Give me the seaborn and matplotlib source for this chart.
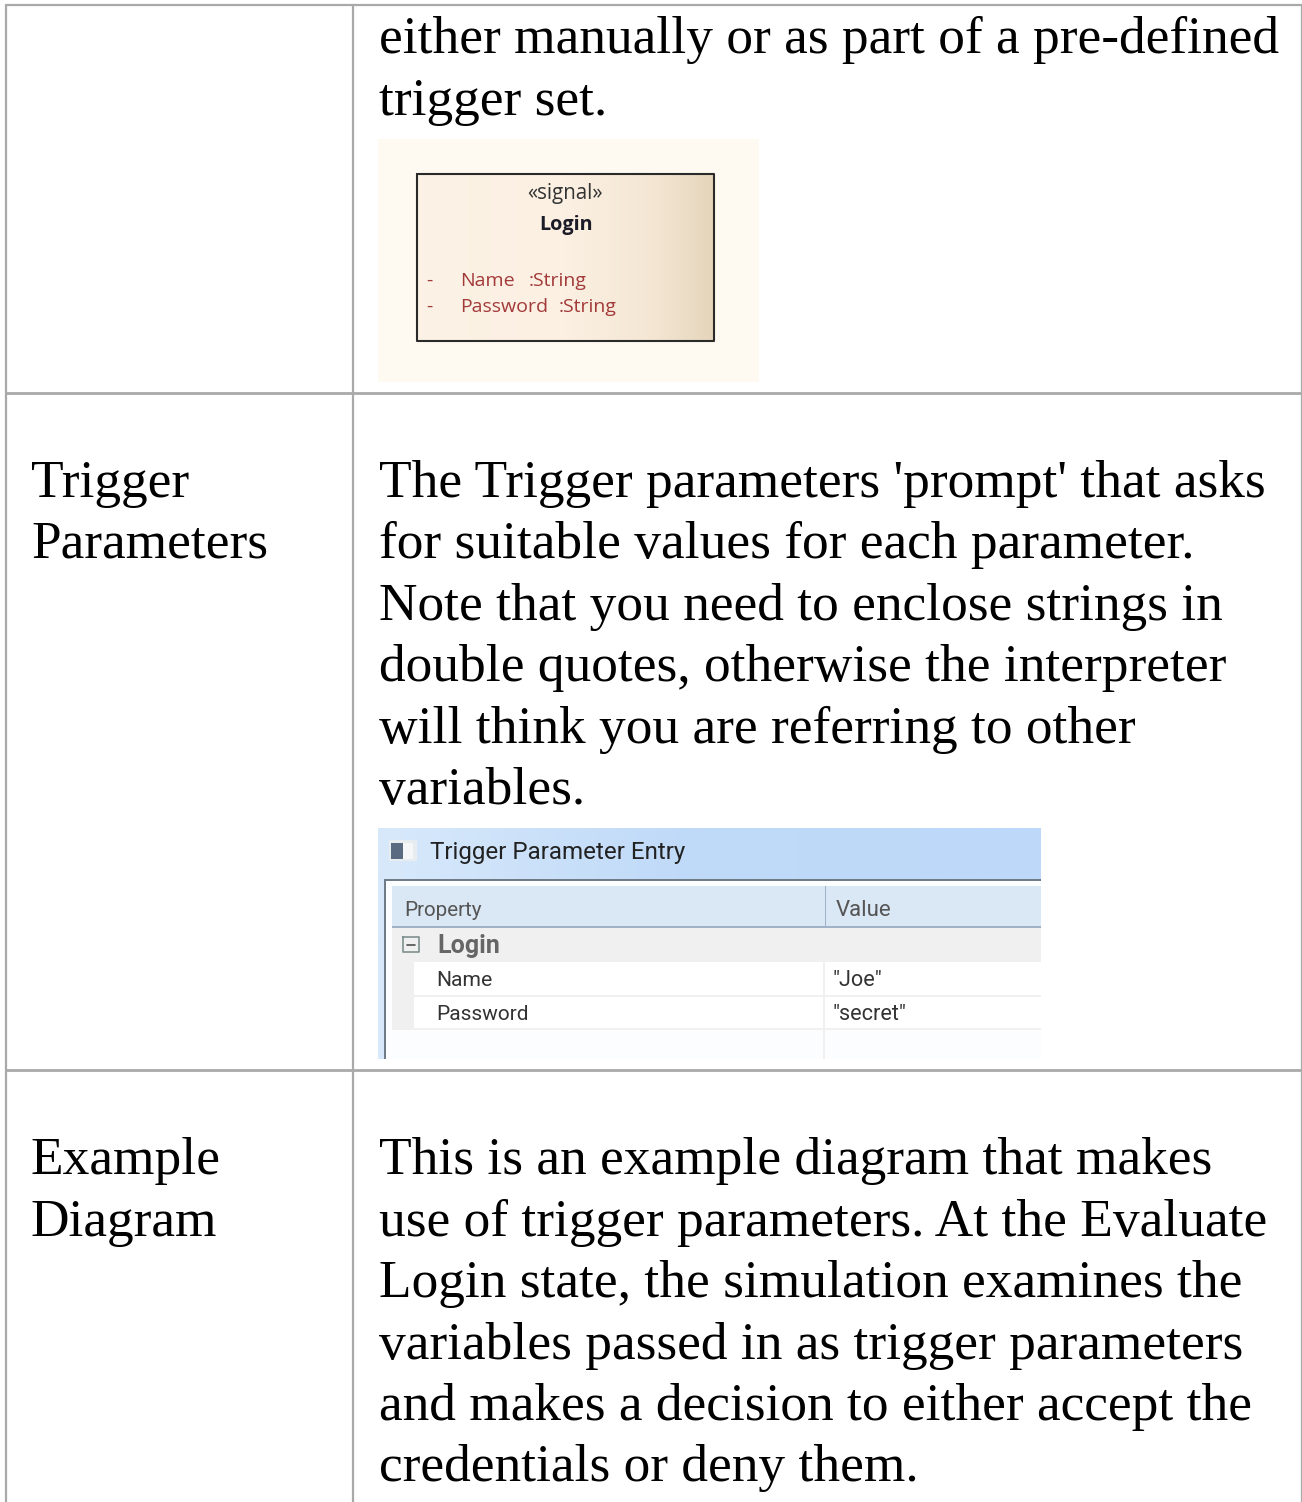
import numpy as np
import pandas as pd
import matplotlib
matplotlib.use("Agg")
import matplotlib.pyplot as plt
import seaborn as sns

# Text of the table
top_lines = ["either manually or as part of a pre-defined", "trigger set."]
label_params = ["Trigger", "Parameters"]
params_lines = [
    "The Trigger parameters 'prompt' that asks",
    "for suitable values for each parameter.",
    "Note that you need to enclose strings in",
    "double quotes, otherwise the interpreter",
    "will think you are referring to other",
    "variables.",
]
label_example = ["Example", "Diagram"]
example_lines = [
    "This is an example diagram that makes",
    "use of trigger parameters. At the Evaluate",
    "Login state, the simulation examines the",
    "variables passed in as trigger parameters",
    "and makes a decision to either accept the",
    "credentials or deny them.",
]

# Baselines in pixels
top_base = [53, 115]
label_params_base = [497, 558]
params_base = [497, 558, 620, 681, 743, 804]
label_example_base = [1174, 1236]
example_base = [1174, 1236, 1297, 1359, 1420, 1481]

# Table rules as x0, x1, y0, y1, width
rules = [
    (6, 6, 5, 1502, 1.6),
    (353, 353, 5, 1502, 1.6),
    (1302, 1302, 5, 1502, 1.6),
    (6, 1302, 5, 5, 1.6),
    (6, 1302, 393, 393, 2.0),
    (6, 1302, 1070, 1070, 2.0),
]

sns.set_theme(style="white")
plt.rcParams["font.family"] = ["Liberation Serif", "DejaVu Serif"]

fig = plt.figure(figsize=(13.02, 15.02), dpi=100)
ax = fig.add_axes([0, 0, 1, 1])

for x0, x1, y0, y1, w in rules:
    rule = pd.DataFrame({"x": [x0, x1], "y": [y0, y1]})
    sns.lineplot(data=rule, x="x", y="y", color="#a9a9a9", lw=w, ax=ax,
                 estimator=None, sort=False, legend=False)
ax.set_xlim(0, 1302)
ax.set_ylim(1502, 0)
ax.axis("off")

SIZE = 38.4
def write(lines, bases, x):
    for line, y in zip(lines, bases):
        ax.text(x, y, line, fontsize=SIZE, color="#000000", va="baseline", ha="left")

write(top_lines, top_base, 379)
write(label_params, label_params_base, 31)
write(params_lines, params_base, 379)
write(label_example, label_example_base, 31)
write(example_lines, example_base, 379)


def rect(x0, y0, x1, y1, color, z=2):
    ax.fill_between([x0, x1], y0, y1, color=color, lw=0, zorder=z)


def grad(x0, y0, x1, y1, colors, positions, z=2):
    # gradient fill from a few colour stops
    rgb = np.array([matplotlib.colors.to_rgb(c) for c in colors])
    t = np.linspace(0, 1, 256)
    img = np.stack([np.interp(t, positions, rgb[:, k]) for k in range(3)], axis=-1)[None, :, :]
    ax.imshow(img, extent=(x0, x1, y1, y0), aspect="auto", zorder=z, interpolation="bilinear")
    ax.set_xlim(0, 1302)
    ax.set_ylim(1502, 0)


# Signal element picture
sans = ["Open Sans", "DejaVu Sans"]
rect(378, 139, 759, 382, "#fef9f1")
grad(417, 174, 714, 341, ["#fcf2e5", "#fbf0e2", "#f4e6d3", "#e5d5bb"], [0, 0.5, 0.8, 1])
ax.plot([417, 714, 714, 417, 417], [174, 174, 341, 341, 174], color="#2a2a2a", lw=1.5, zorder=3)
ax.text(565, 193, "«signal»", fontsize=14.8, family=sans, color="#333333", ha="center", va="center", zorder=4)
ax.text(566, 225, "Login", fontsize=14.2, family=sans, weight="bold", color="#1c1c28", ha="center", va="center", zorder=4)
red = "#a33a3a"
for y, name, typ, xt in [(281, "Name", ":String", 529), (307, "Password", ":String", 559)]:
    ax.text(426, y, "-", fontsize=14, family=sans, color=red, va="center", zorder=4)
    ax.text(460, y, name, fontsize=14, family=sans, color=red, va="center", zorder=4)
    ax.text(xt, y, typ, fontsize=14, family=sans, color=red, va="center", zorder=4)

# Trigger Parameter Entry picture
ui = ["Roboto", "DejaVu Sans"]
grad(378, 828, 1041, 1059, ["#d8e9fb", "#c0daf8", "#bdd8f8"], [0, 0.45, 1], z=2)
rect(384, 879, 1041, 881, "#6f7b86", z=3)
rect(384, 879, 386, 1059, "#6f7b86", z=3)
rect(386, 881, 1041, 1059, "#fcfdfe", z=3)
rect(392, 886, 1041, 926, "#dae7f4", z=4)
rect(392, 926, 1041, 928, "#9fb2c6", z=4)
rect(392, 928, 1041, 962, "#f0f0f0", z=4)
rect(392, 962, 414, 1029, "#f0f0f0", z=4)
rect(414, 962, 1041, 995, "#ffffff", z=4)
rect(414, 997, 1041, 1028, "#ffffff", z=4)
rect(392, 995, 1041, 997, "#f0f0f0", z=4)
rect(392, 1028, 1041, 1030, "#f0f0f0", z=4)
rect(825, 886, 826, 927, "#9fb2c6", z=5)
rect(823, 962, 824.5, 1059, "#f0f0f0", z=5)
# window icon
rect(389, 840, 417, 861, "#e6ecef", z=5)
rect(391, 843, 403, 859, "#5a6a80", z=6)
rect(403, 843, 413, 859, "#f4f6f8", z=6)
# collapse box
ax.plot([403, 419, 419, 403, 403], [937, 937, 952, 952, 937], color="#7f8f8f", lw=1.2, zorder=6)
ax.plot([407, 415], [944.5, 944.5], color="#505050", lw=1.2, zorder=6)

ui_text = [
    (430, 852, "Trigger Parameter Entry", 17.4, "#222222", "normal"),
    (404, 910, "Property", 14.9, "#555555", "normal"),
    (836, 910, "Value", 16.0, "#555555", "normal"),
    (437, 946, "Login", 18.0, "#666666", "bold"),
    (436, 980, "Name", 15.2, "#333333", "normal"),
    (436, 1014, "Password", 15.0, "#333333", "normal"),
    (832, 980, '"Joe"', 15.6, "#333333", "normal"),
    (832, 1014, '"secret"', 15.6, "#333333", "normal"),
]
for x, y, s, fs, col, wt in ui_text:
    ax.text(x, y, s, fontsize=fs, family=ui, color=col, weight=wt, va="center", zorder=7)

fig.savefig("out.png", dpi=100, facecolor="white")
